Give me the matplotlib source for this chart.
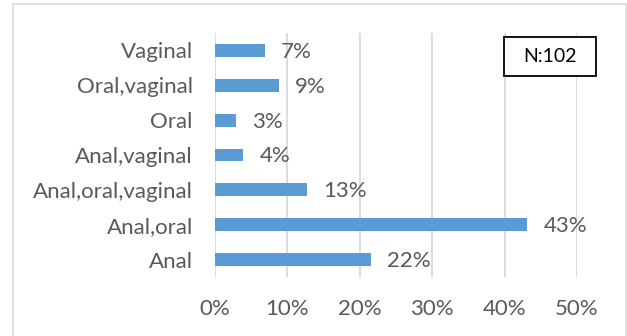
import matplotlib
matplotlib.use("Agg")
import matplotlib.pyplot as plt
from matplotlib.patches import Rectangle

categories = ["Anal", "Anal,oral", "Anal,oral,vaginal", "Anal,vaginal",
              "Oral", "Oral,vaginal", "Vaginal"]
counts = [22, 44, 13, 4, 3, 9, 7]
total = 102
labels = ["22%", "43%", "13%", "4%", "3%", "9%", "7%"]
xticks = [0, 0.1, 0.2, 0.3, 0.4, 0.5]

bar_color = "#5b9bd5"
text_color = "#595959"
grid_color = "#d9d9d9"

plt.rcParams["font.family"] = ["Lato", "DejaVu Sans"]

fig = plt.figure(figsize=(6.27, 3.36), dpi=100)
ax = fig.add_axes([215 / 627, 1 - 277 / 336, 362 / 627, 244 / 336])

# outer chart frame
fig.patches.append(Rectangle((13 / 627, -0.05), 613 / 627, 1.05 - 4 / 336,
                             transform=fig.transFigure, fill=False,
                             edgecolor=grid_color, linewidth=1.2))

shares = [c / total for c in counts]
ypos = range(len(categories))
ax.barh(ypos, shares, height=0.37, color=bar_color, zorder=3)

for y, v, lab in zip(ypos, shares, labels):
    ax.annotate(lab, (v, y), xytext=(11.5, -1), textcoords="offset points",
                va="center", ha="left", fontsize=16, color=text_color)

ax.set_xlim(0, 0.5)
ax.set_ylim(-0.5, 6.5)
ax.set_xticks(xticks)
ax.set_xticklabels(["{:.0f}%".format(t * 100) for t in xticks])
ax.set_yticks(list(ypos))
ax.set_yticklabels(categories)
ax.tick_params(axis="x", length=0, pad=16, labelsize=16, labelcolor=text_color)
ax.tick_params(axis="y", length=0, pad=16, labelsize=16, labelcolor=text_color)
ax.grid(axis="x", color=grid_color, linewidth=1.3, zorder=0)
for s in ax.spines.values():
    s.set_visible(False)

# N box
ax.add_patch(Rectangle((0.798, 0.824), 0.254, 0.16, transform=ax.transAxes,
                       facecolor="white", edgecolor="black", linewidth=1.3,
                       zorder=5, clip_on=False))
ax.text(0.925, 0.904, "N:102", transform=ax.transAxes, ha="center", va="center",
        fontsize=14, color="black", zorder=6)

plt.savefig("out.png", dpi=100)
